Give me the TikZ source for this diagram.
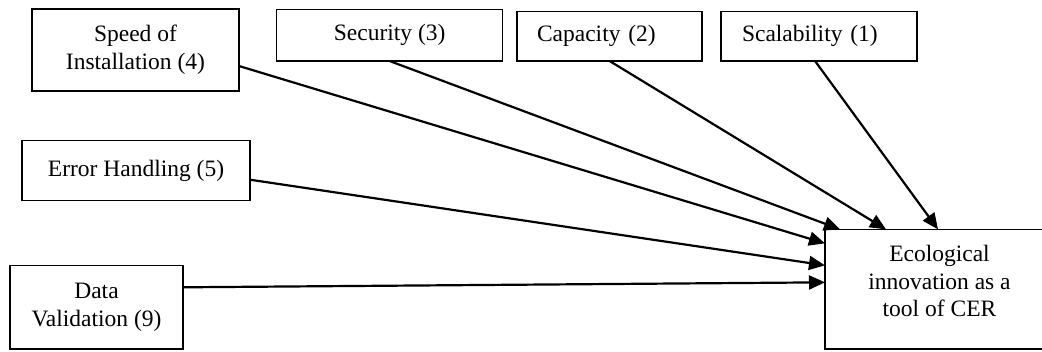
\documentclass[tikz,border=0pt]{standalone}
\usepackage{fontspec}
\setmainfont{Liberation Serif}
\usetikzlibrary{arrows.meta}

\tikzset{
  factor/.style={draw=black, line width=1.5pt, fill=white, inner sep=0pt, outer sep=0pt,
    align=center, font=\fontsize{23.5}{27.6}\selectfont},
  leftfactor/.style={factor, align=left},
  link/.style={draw=black, line width=2.2pt, -{Triangle[length=16pt,width=14pt]}}
}

\begin{document}
\begin{tikzpicture}[x=1pt, y=-1pt]
  \useasboundingbox (0,0) rectangle (1042,351);
  \clip (0,0) rectangle (1042,351);

  % factor boxes
  \node[factor, minimum width=207pt, minimum height=82pt] (speed) at (135.5,50)
    {Speed of\\Installation (4)};
  \node[factor, minimum width=226pt, minimum height=51.5pt] (sec) at (389.7,35.3)
    {Security (3)};
  \node[leftfactor, minimum width=185pt, minimum height=49.3pt, inner xsep=20pt,
    text width=145pt] (cap) at (609.5,36.3) {Capacity (2)};
  \node[leftfactor, minimum width=196pt, minimum height=49.3pt, inner xsep=21pt,
    text width=154pt] (scal) at (819,36.3) {Scalability (1)};
  \node[factor, minimum width=228pt, minimum height=60pt] (err) at (136,170.7)
    {Error Handling (5)};
  \node[factor, minimum width=173pt, minimum height=83.3pt] (data) at (96.5,307.3)
    {Data\\Validation (9)};

  % outcome box
  \node[factor, minimum width=229pt, minimum height=119.7pt, text depth=16pt] (cer)
    at (939.5,289.2) {Ecological\\innovation as a\\tool of CER};

  % influence arrows
  \draw[link] ([xshift=-4pt]scal.south) -- ([xshift=113pt]cer.north west);
  \draw[link] (cap.south) -- ([xshift=61pt]cer.north west);
  \draw[link] (sec.south) -- ([xshift=15pt]cer.north west);
  \draw[link] ([yshift=-16pt]speed.east) -- ([yshift=-14pt]cer.north west);
  \draw[link] ([yshift=-9pt]err.east) -- ([yshift=-36pt]cer.north west);
  \draw[link] ([yshift=20pt]data.east) -- ([yshift=-53pt]cer.north west);
\end{tikzpicture}
\end{document}
